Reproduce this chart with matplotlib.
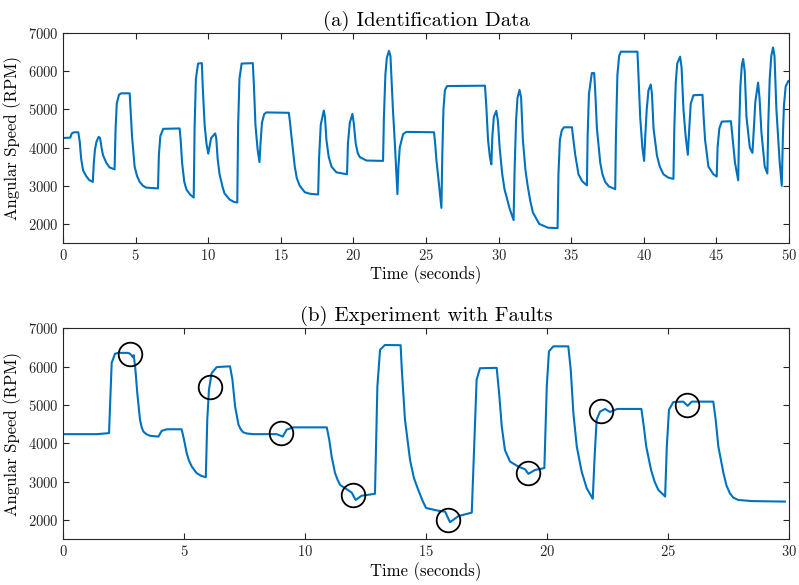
import matplotlib
matplotlib.use("Agg")
import matplotlib.pyplot as plt

plt.rcParams['font.family'] = ['cmr10', 'DejaVu Serif']
plt.rcParams['axes.formatter.use_mathtext'] = True
plt.rcParams['mathtext.fontset'] = 'cm'

# (a) identification data
t_ident = [0, 0.5, 0.6, 0.75, 1.05, 1.15, 1.25, 1.38, 1.6, 1.8, 2.05, 2.12, 2.2, 2.3, 2.45, 2.55, 2.65,
           2.75, 2.98, 3.2, 3.55, 3.62, 3.7, 3.85, 4.0, 4.59, 4.65, 4.75, 4.93, 5.1, 5.28, 5.5, 5.73,
           6.54, 6.6, 6.7, 6.9, 8.03, 8.1, 8.2, 8.35, 8.5, 8.75, 9.0, 9.06, 9.15, 9.3, 9.56, 9.62,
           9.75, 9.88, 10.0, 10.1, 10.2, 10.48, 10.55, 10.65, 10.78, 11.0, 11.12, 11.47, 11.75, 12.0,
           12.06, 12.15, 12.3, 13.07, 13.15, 13.25, 13.4, 13.53, 13.6, 13.7, 13.85, 14.0, 15.55, 15.62,
           15.73, 15.96, 16.1, 16.3, 16.65, 17.0, 17.57, 17.63, 17.75, 17.96, 18.04, 18.14, 18.3, 18.49,
           18.83, 19.56, 19.62, 19.75, 19.93, 20.02, 20.16, 20.3, 20.44, 20.9, 22.04, 22.1, 22.2, 22.3,
           22.45, 22.55, 22.61, 22.72, 22.84, 23.03, 23.1, 23.19, 23.42, 23.65, 25.55, 25.62, 25.71,
           25.9, 26.06, 26.12, 26.2, 26.3, 26.45, 29.06, 29.15, 29.27, 29.4, 29.5, 29.57, 29.67, 29.84,
           29.95, 30.07, 30.25, 30.41, 30.76, 31.03, 31.1, 31.2, 31.3, 31.44, 31.55, 31.67, 31.85, 32.0,
           32.18, 32.36, 32.8, 33.4, 34.06, 34.12, 34.22, 34.35, 34.5, 35.05, 35.15, 35.28, 35.5, 35.75,
           36.08, 36.13, 36.22, 36.42, 36.58, 36.65, 36.77, 37.0, 37.15, 37.34, 37.6, 38.03, 38.08,
           38.18, 38.3, 38.42, 39.56, 39.62, 39.75, 39.9, 40.02, 40.1, 40.2, 40.32, 40.48, 40.56, 40.67,
           40.9, 41.1, 41.35, 41.7, 42.04, 42.1, 42.2, 42.3, 42.5, 42.6, 42.73, 42.88, 43.03, 43.1,
           43.23, 43.42, 44.04, 44.12, 44.22, 44.45, 44.79, 45.02, 45.08, 45.2, 45.37, 46.0, 46.1,
           46.28, 46.5, 46.56, 46.65, 46.75, 46.84, 46.95, 47.07, 47.3, 47.48, 47.55, 47.68, 47.87,
           47.97, 48.1, 48.33, 48.51, 48.57, 48.67, 48.78, 48.9, 49.0, 49.13, 49.36, 49.5, 49.58,
           49.65, 49.77, 49.95, 50.0]
rpm_ident = [4250, 4260, 4370, 4400, 4400, 4150, 3700, 3400, 3250, 3150, 3100, 3600, 3950, 4150, 4280, 4250, 4000,
             3800, 3600, 3480, 3430, 4500, 5150, 5380, 5420, 5420, 5000, 4300, 3500, 3250, 3100, 3000, 2950,
             2930, 3800, 4300, 4490, 4500, 4200, 3600, 3100, 2900, 2770, 2690, 4500, 5800, 6200, 6210, 5600,
             4600, 4100, 3840, 4050, 4250, 4370, 4250, 3700, 3300, 2950, 2800, 2640, 2580, 2560,
             4600, 5800, 6200, 6210, 5600, 4600, 3950, 3620, 4100, 4650, 4870, 4920, 4910, 4700,
             4300, 3500, 3200, 3000, 2830, 2790, 2770, 3700, 4600, 4970, 4800, 4200, 3750, 3500,
             3350, 3300, 4100, 4650, 4880, 4650, 4100, 3850, 3750, 3660, 3650, 4800, 5900, 6350,
             6530, 6400, 5900, 5000, 4200, 2780, 3500, 4000, 4350, 4410, 4400, 4150, 3700,
             3000, 2420, 3800, 5000, 5500, 5610, 5620, 5100, 4200, 3750, 3560, 4300, 4800, 4960,
             4700, 4000, 3300, 2900, 2400, 2100, 3400, 4700, 5300, 5510, 5300, 4200, 3400, 3000,
             2600, 2300, 2000, 1900, 1890, 3300, 4200, 4450, 4530, 4530, 4200, 3800, 3300, 3120,
             3010, 4300, 5400, 5950, 5950, 5500, 4500, 3600, 3300, 3100, 2980, 2910, 4300,
             5900, 6400, 6510, 6510, 6000, 4800, 4000, 3650, 4300, 5000, 5500, 5650, 5400, 4500,
             3800, 3500, 3300, 3210, 3180, 4500, 5700, 6200, 6380, 6100, 5000, 4300, 3810, 4300,
             5150, 5370, 5380, 4800, 4200, 3500, 3300, 3240, 4000, 4500, 4680, 4690, 4300,
             3600, 3140, 4400, 5600, 6150, 6320, 6000, 4800, 4000, 3860, 4300, 5200, 5700,
             5300, 4400, 3500, 3320, 4600, 5800, 6400, 6620, 6400, 5000, 3600, 3000, 4300,
             5100, 5600, 5740, 5750]

# (b) experiment with faults
t_fault = [0, 1.39, 1.9, 2.01, 2.15, 2.29, 2.7, 2.8, 2.88, 2.92, 2.98, 3.07, 3.18, 3.25, 3.32, 3.45, 3.6, 3.94,
           4.08, 4.28, 4.9, 5.0, 5.11, 5.2, 5.32, 5.52, 5.7, 5.9, 5.96, 6.03, 6.14, 6.35, 6.9, 7.0, 7.11,
           7.25, 7.35, 7.45, 7.6, 7.87, 8.83, 9.08, 9.24, 9.52, 10.9, 11.0, 11.1, 11.24, 11.35, 11.45,
           11.72, 11.93, 12.09, 12.34, 12.89, 12.99, 13.1, 13.3, 13.95, 14.0, 14.13, 14.34, 14.5, 14.68,
           14.85, 15.0, 15.5, 15.79, 15.99, 16.34, 16.89, 16.98, 17.09, 17.23, 17.92, 18.02, 18.13, 18.26,
           18.47, 18.81, 19.09, 19.23, 19.5, 19.89, 19.99, 20.08, 20.26, 20.88, 20.98, 21.09, 21.23,
           21.43, 21.64, 21.89, 21.96, 22.05, 22.19, 22.4, 22.6, 22.9, 23.9, 24.0, 24.1, 24.3, 24.45,
           24.6, 24.88, 24.95, 25.04, 25.22, 25.63, 25.81, 25.98, 26.87, 26.97, 27.08, 27.29, 27.42,
           27.56, 27.7, 27.9, 28.46, 29.83]
rpm_fault = [4243, 4243, 4270, 6100, 6340, 6360, 6360, 6320, 6250, 6300, 6000, 5300, 4620, 4420, 4310, 4240, 4200, 4180,
             4330, 4370, 4370, 4100, 3750, 3560, 3400, 3230, 3160, 3120, 4620, 5400, 5830, 5990, 6010, 5660, 4965,
             4490, 4360, 4290, 4260, 4243, 4243, 4180, 4360, 4420, 4420, 4100, 3660, 3230, 3050, 2920,
             2810, 2720, 2530, 2640, 2690, 5490, 6440, 6565, 6560, 5920, 4620, 3570, 3100, 2790,
             2520, 2320, 2250, 2225, 1950, 2110, 2200, 3750, 5660, 5960, 5970, 5310, 4440, 3830,
             3530, 3400, 3330, 3210, 3310, 3360, 5490, 6400, 6530, 6530, 5920, 4790, 3920,
             3270, 2835, 2560, 3570, 4620, 4830, 4900, 4820, 4900, 4900, 4440, 3920, 3310, 3000,
             2790, 2620, 3920, 4880, 5080, 5090, 4980, 5090, 5090, 4620, 3920, 3230, 2900,
             2700, 2590, 2530, 2500, 2487]

# fault locations marked with circles
fault_t = [2.77, 6.07, 9.01, 11.98, 15.9, 19.2, 22.23, 25.79]
fault_rpm = [6321, 5460, 4266, 2648, 2013, 3240, 4849, 4990]

blue = '#0072BD'
fig = plt.figure(figsize=(7.99, 5.85), dpi=100)
ax1 = fig.add_axes([0.0789, 0.5846, 0.9086, 0.359])
ax2 = fig.add_axes([0.0789, 0.0778, 0.9086, 0.361])

ax1.plot(t_ident, rpm_ident, color=blue, lw=1.5)
ax2.plot(t_fault, rpm_fault, color=blue, lw=1.5)
ax2.plot(fault_t, fault_rpm, 'o', mfc='none', mec='black', mew=1.3, ms=17)

for ax, xmax, title in [(ax1, 50, '(a) Identification Data'), (ax2, 30, '(b) Experiment with Faults')]:
    ax.set_xlim(0, xmax)
    ax.set_ylim(1500, 7000)
    ax.set_xticks(range(0, xmax + 1, 5))
    ax.set_yticks(range(2000, 7001, 1000))
    ax.tick_params(direction='in', top=True, right=True, labelsize=10.5, colors='#262626', length=4)
    for s in ax.spines.values():
        s.set_color('#262626')
        s.set_linewidth(0.8)
    ax.set_title(title, fontsize=15, pad=5)
    ax.set_xlabel('Time (seconds)', fontsize=12, labelpad=2)
    ax.set_ylabel('Angular Speed (RPM)', fontsize=12, labelpad=4)

fig.savefig('out.png', dpi=100)
